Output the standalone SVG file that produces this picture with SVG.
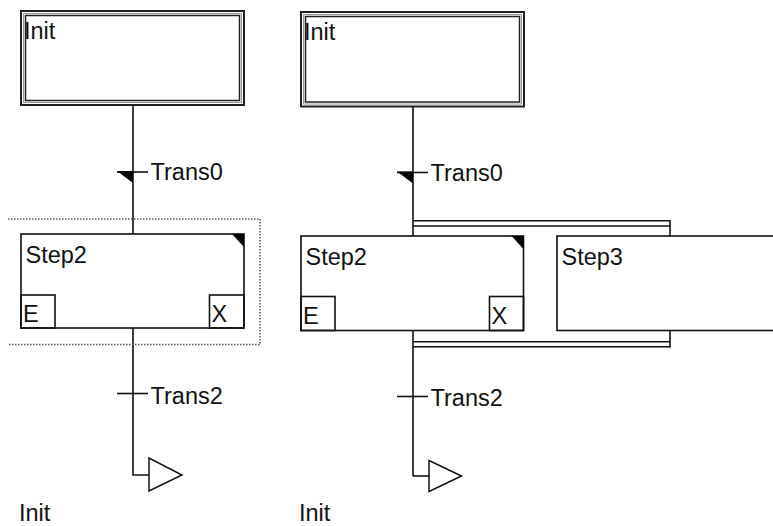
<svg xmlns="http://www.w3.org/2000/svg" width="773" height="526" viewBox="0 0 773 526">
<style>
  .ln{stroke:#111;stroke-width:1.6;fill:none}
  .box{stroke:#111;stroke-width:1.6;fill:#fff}
  .sub{stroke:#111;stroke-width:1.6;fill:none}
  .txt{font-family:"Liberation Sans",Arial,sans-serif;font-size:23.5px;fill:#111}
  .outer{stroke:#222;stroke-width:2;fill:#fff}
  .mid{stroke:#999;stroke-width:1;fill:none}
  .inner{stroke:#222;stroke-width:1.5;fill:none}
  .mark{fill:#000;stroke:none}
  .jump{stroke:#111;stroke-width:1.5;fill:#fff}
  .sel{stroke:#555;stroke-width:1.5;fill:none;stroke-dasharray:1.5 1.5}
</style>
<rect width="773" height="526" fill="#fff"/>

<!-- LEFT CHART -->
<g id="connectors-left">
  <line class="ln" x1="133" y1="105" x2="133" y2="234"/>
  <polyline class="ln" points="133,328 133,475 149,475"/>
</g>
<path id="selection-left" class="sel" d="M8,219 H260 V344.5 H8"/>
<g id="init-left">
  <rect class="outer" x="21" y="11" width="223" height="94"/>
  <rect class="mid" x="23.5" y="13.5" width="218" height="89"/>
  <rect class="inner" x="25.5" y="15.5" width="214" height="85"/>
  <text class="txt" x="24" y="39">Init</text>
</g>
<g id="trans0-left">
  <line class="ln" x1="117" y1="172" x2="148" y2="172"/>
  <polygon class="mark" points="117,171 133,171 133,183"/>
  <text class="txt" x="150.5" y="180">Trans0</text>
</g>
<g id="step2-left">
  <rect class="box" x="21" y="234" width="223" height="94"/>
  <polygon class="mark" points="232,234 244,234 244,247"/>
  <text class="txt" x="25.5" y="263">Step2</text>
  <rect class="sub" x="21" y="295" width="34" height="33"/>
  <text class="txt" x="23" y="322">E</text>
  <rect class="sub" x="209.5" y="295" width="34.5" height="33"/>
  <text class="txt" x="211.5" y="322">X</text>
</g>
<g id="trans2-left">
  <line class="ln" x1="117" y1="393.5" x2="148" y2="393.5"/>
  <text class="txt" x="150.5" y="404">Trans2</text>
</g>
<g id="jump-left">
  <polygon class="jump" points="149,458 149,491 182,475"/>
  <text class="txt" x="19" y="520.5">Init</text>
</g>

<!-- RIGHT CHART -->
<g id="connectors-right">
  <line class="ln" x1="413" y1="107" x2="413" y2="236"/>
  <line class="ln" x1="413" y1="220.7" x2="670" y2="220.7"/>
  <line class="ln" x1="413" y1="226" x2="670" y2="226"/>
  <line class="ln" x1="670" y1="220" x2="670" y2="236"/>
  <line class="ln" x1="413" y1="330.5" x2="413" y2="476"/>
  <line class="ln" x1="413" y1="341.7" x2="670" y2="341.7"/>
  <line class="ln" x1="413" y1="346.7" x2="670" y2="346.7"/>
  <line class="ln" x1="670" y1="330.5" x2="670" y2="347.5"/>
  <polyline class="ln" points="413,476 429,476"/>
</g>
<g id="init-right">
  <rect class="outer" x="301" y="12" width="223" height="94.5"/>
  <rect class="mid" x="303.5" y="14.5" width="218" height="89.5"/>
  <rect class="inner" x="305.5" y="16.5" width="214" height="85.5"/>
  <text class="txt" x="304" y="40">Init</text>
</g>
<g id="trans0-right">
  <line class="ln" x1="397" y1="172.5" x2="428" y2="172.5"/>
  <polygon class="mark" points="397,171.5 413,171.5 413,183.5"/>
  <text class="txt" x="430.5" y="181">Trans0</text>
</g>
<g id="step2-right">
  <rect class="box" x="301" y="236" width="222.5" height="94.5"/>
  <polygon class="mark" points="511.5,236 523.5,236 523.5,249"/>
  <text class="txt" x="305.5" y="265">Step2</text>
  <rect class="sub" x="301" y="296.5" width="34" height="34"/>
  <text class="txt" x="303" y="324">E</text>
  <rect class="sub" x="489.5" y="296.5" width="34" height="34"/>
  <text class="txt" x="491.5" y="324">X</text>
</g>
<g id="step3-right">
  <rect class="box" x="557" y="236" width="230" height="94.5"/>
  <text class="txt" x="561.5" y="265">Step3</text>
</g>
<g id="trans2-right">
  <line class="ln" x1="397" y1="396.5" x2="428" y2="396.5"/>
  <text class="txt" x="430.5" y="406">Trans2</text>
</g>
<g id="jump-right">
  <polygon class="jump" points="429,460.5 429,491.5 461.5,476"/>
  <text class="txt" x="299" y="520.5">Init</text>
</g>
</svg>
